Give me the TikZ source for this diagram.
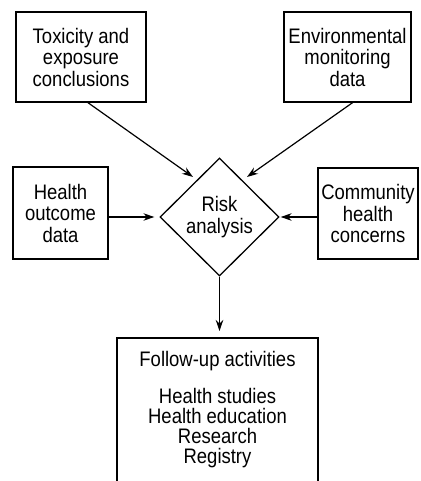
\documentclass[tikz,border=0pt]{standalone}
\usepackage{fontspec}
\setmainfont{Liberation Sans}[FakeStretch=0.88]
\usetikzlibrary{shapes.geometric,arrows.meta}
\begin{document}
\begin{tikzpicture}[x=1pt,y=-1pt,
  txt/.style={font=\fontsize{21}{21.5}\selectfont},
  box/.style={txt,draw,line width=1.4pt,inner sep=0pt,align=center},
  dia/.style={txt,draw,diamond,line width=1.3pt,inner sep=0pt,align=center,
    minimum width=119pt,minimum height=118pt},
  arr/.style={line width=1.2pt,-{Stealth[length=11pt,width=7.5pt]}}]
\useasboundingbox (0,0) rectangle (420,481);
\node[box,minimum width=130pt,minimum height=90pt] (tox) at (81,57) {Toxicity and\\exposure\\conclusions};
\node[box,minimum width=127pt,minimum height=90pt] (env) at (347.5,57) {Environmental\\monitoring\\data};
\node[box,minimum width=95pt,minimum height=92pt] (hea) at (60.5,213) {Health\\outcome\\data};
\node[box,minimum width=100pt,minimum height=91pt] (com) at (368,213.5) {Community\\health\\concerns};
\node[dia] (risk) at (219.5,217) {Risk\\analysis};
\begin{scope}
\clip (0,0) rectangle (420,481);
\draw[line width=1.4pt] (117,500) -- (117,338) -- (318,338) -- (318,500);
\end{scope}
\node[txt,anchor=base] (fol) at (217.5,366) {Follow-up activities};
\node[txt,font=\fontsize{21}{20}\selectfont,align=center,anchor=north,inner sep=0pt] (list) at (217.5,388) {Health studies\\Health education\\Research\\Registry};
\coordinate (fup) at (219.5,338);
\coordinate (ta) at (193,177);
\coordinate (tb) at (247,177);
\draw[arr] ([xshift=7pt]tox.south) -- (ta);
\draw[arr] ([xshift=5pt]env.south) -- (tb);
\draw[arr,shorten >=5pt] (hea.east |- risk.west) -- (risk.west);
\draw[arr,shorten >=1pt] (com.west |- risk.east) -- (risk.east);
\draw[arr,shorten >=7pt] (risk.south) -- (fup);
\end{tikzpicture}
\end{document}
